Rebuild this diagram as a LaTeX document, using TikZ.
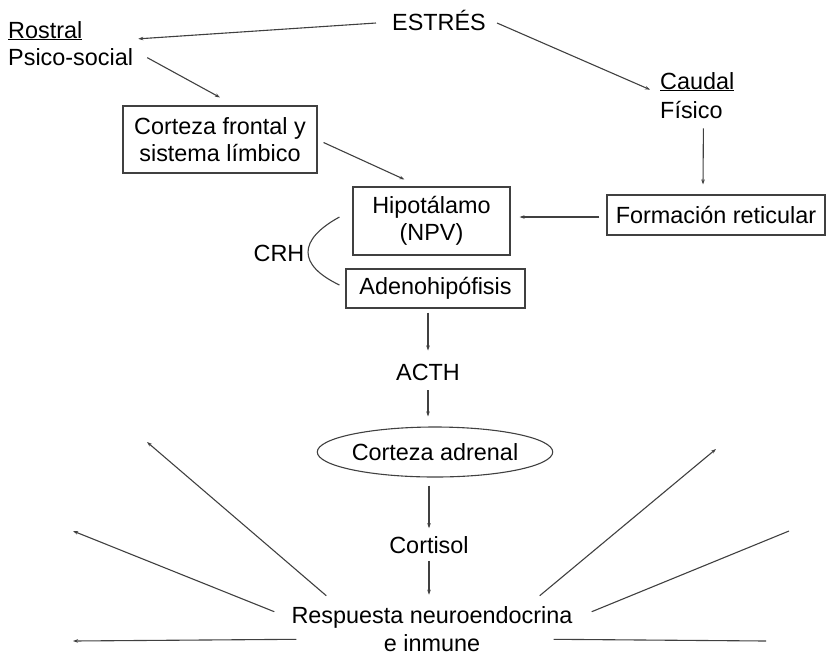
\documentclass[tikz,border=0pt]{standalone}
\usepackage{fontspec}
\setmainfont{Liberation Sans}
\usetikzlibrary{arrows.meta,calc,shapes.geometric}
\definecolor{linegray}{HTML}{404040}
\begin{document}
\begin{tikzpicture}[x=1pt,y=-1pt,
  every node/.style={inner sep=0pt, font=\fontsize{23.4}{27}\selectfont, text=black},
  line/.style={draw=linegray, line width=1.1pt},
  arr/.style={line, -{Stealth[length=5pt,width=3.5pt]}},
  box/.style={draw=linegray, line width=1.1pt, align=center}]
\useasboundingbox (0,0) rectangle (827,657);

\node (estres) at (439,20) {ESTRÉS};
\node[anchor=base west] (rostral) at (8,38) {\underline{Rostral}};
\node[anchor=base west] (psico) at (8,65) {Psico-social};
\node[anchor=base west] (caudal) at (660,89) {\underline{Caudal}};
\node[anchor=base west] (fisico) at (660,118) {Físico};
\node[box, minimum width=194pt, minimum height=67pt] (corteza) at (220,139.5) {Corteza frontal y\\sistema límbico};
\node[box, minimum width=157pt, minimum height=68pt] (hipot) at (431.5,221) {Hipotálamo\\(NPV)};
\node[box, minimum width=179pt, minimum height=39pt] (adeno) at (435.5,288.5) {Adenohipófisis};
\node[box, minimum width=218pt, minimum height=40pt] (form) at (716,215) {Formación reticular};
\node (crh) at (279,253) {CRH};
\node (acth) at (428,372) {ACTH};
\node[ellipse, draw=linegray, line width=1.1pt, minimum width=206pt, minimum height=50pt] (adrenal) at (435,452) {Corteza adrenal};
\node (cortisol) at (429,545) {Cortisol};
\node[align=center, font=\fontsize{23.4}{28}\selectfont] (resp) at (432,629.5) {Respuesta neuroendocrina\\e inmune};

\coordinate (l1) at (147,442);
\coordinate (l2) at (73,531);
\coordinate (l3) at (73,641);
\coordinate (r1) at (716,449);
\coordinate (r2) at (789,531);
\coordinate (r3) at (766,641);

\draw[arr] ($(estres.west)+(-16,3)$) -- ($(psico.north east)+(5,-9)$);
\draw[arr] ($(psico.east)+(14,1)$) -- ($(corteza.north)+(0,-8)$);
\draw[arr] ($(corteza.east)+(6,3)$) -- ($(hipot.north west)+(52,-7)$);
\draw[arr] ($(estres.east)+(11,3)$) -- ($(caudal.west)+(-10,8)$);
\draw[arr] ($(fisico.south)+(12,10)$) -- ($(form.north)+(-13,-10)$);
\draw[arr] ($(form.west)+(-7,2)$) -- ($(hipot.east)+(9,-4)$);
\draw[line] ($(hipot.west)+(-13,-4)$) .. controls ($(crh.east)+(-7,-13)$) and ($(crh.east)+(-7,12)$) .. ($(adeno.west)+(-6,-3.5)$);

\draw[arr] ($(adeno.south -| acth.north)+(0,4)$) -- ($(acth.north)+(0,-13)$);
\draw[arr] ($(acth.south)+(0,10)$) -- ($(adrenal.north -| acth)+(0,-10)$);
\draw[arr] ($(adrenal.south -| cortisol)+(0,8)$) -- ($(cortisol.north)+(0,-8)$);
\draw[arr] ($(cortisol.south)+(0,7)$) -- ($(resp.north -| cortisol)+(0,-12)$);

\draw[arr] ($(resp.north west)+(35,-11)$) -- (l1);
\draw[arr] ($(resp.north west)+(-17,5)$) -- (l2);
\draw[arr] ($(resp.south west)+(5,-13)$) -- (l3);
\draw[arr] ($(resp.north east)+(-33,-11)$) -- (r1);
\draw[line] ($(resp.north east)+(19,5)$) -- (r2);
\draw[line] ($(resp.south east)+(-19,-13)$) -- (r3);
\end{tikzpicture}
\end{document}
